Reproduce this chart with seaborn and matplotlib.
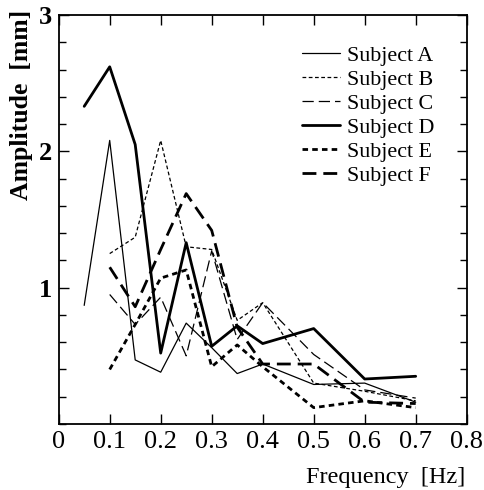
import matplotlib
matplotlib.use("Agg")
import matplotlib.pyplot as plt
import seaborn as sns
import pandas as pd
from matplotlib.ticker import MultipleLocator

freq_a = [0.05, 0.1, 0.15, 0.2, 0.25, 0.3, 0.35, 0.4, 0.5, 0.6, 0.7]
freq_b = [0.1, 0.15, 0.2, 0.25, 0.3, 0.35, 0.4, 0.5, 0.6, 0.7]

subject_a = [0.87, 2.08, 0.47, 0.38, 0.74, 0.56, 0.37, 0.44, 0.29, 0.30, 0.16]
subject_b = [1.25, 1.37, 2.08, 1.30, 1.28, 0.76, 0.89, 0.30, 0.24, 0.17]
subject_c = [0.95, 0.73, 0.93, 0.50, 1.27, 0.62, 0.89, 0.51, 0.25, 0.19]
subject_d = [2.33, 2.62, 2.05, 0.52, 1.33, 0.57, 0.72, 0.59, 0.70, 0.33, 0.35]
subject_e = [0.40, 0.73, 1.07, 1.13, 0.42, 0.58, 0.42, 0.12, 0.17, 0.12]
subject_f = [1.15, 0.86, 1.28, 1.69, 1.42, 0.71, 0.44, 0.44, 0.16, 0.15]

labels = ["Subject A", "Subject B", "Subject C", "Subject D", "Subject E", "Subject F"]
x_ticks = [0, 0.1, 0.2, 0.3, 0.4, 0.5, 0.6, 0.7, 0.8]
x_tick_labels = ["0", "0.1", "0.2", "0.3", "0.4", "0.5", "0.6", "0.7", "0.8"]
y_ticks = [1, 2, 3]
y_tick_labels = ["1", "2", "3"]

series = [
    (freq_a, subject_a), (freq_b, subject_b), (freq_b, subject_c),
    (freq_a, subject_d), (freq_b, subject_e), (freq_b, subject_f),
]
styles = [
    dict(lw=0.9, dashes=""),
    dict(lw=0.9, dashes=(3, 2)),
    dict(lw=0.9, dashes=(9, 4)),
    dict(lw=2.0, dashes=""),
    dict(lw=2.0, dashes=(2, 1.5)),
    dict(lw=2.0, dashes=(5, 2.5)),
]

sns.set_style("ticks")
plt.rcParams["font.family"] = ["Liberation Serif", "DejaVu Serif"]
plt.rcParams["text.color"] = "black"
plt.rcParams["axes.labelcolor"] = "black"
plt.rcParams["xtick.color"] = "black"
plt.rcParams["ytick.color"] = "black"

fig = plt.figure(figsize=(4.84, 4.90), dpi=100)
ax = fig.add_axes([58.7 / 484, 1 - 424 / 490, 408 / 484, 409 / 490])

for (xs, ys), lab, st in zip(series, labels, styles):
    df = pd.DataFrame({"Frequency": xs, "Amplitude": ys})
    sns.lineplot(data=df, x="Frequency", y="Amplitude", ax=ax,
                 color="black", lw=st["lw"], label=lab)
    ln = ax.lines[-1]
    if st["dashes"]:
        ln.set_dashes(st["dashes"])

ax.set_xlim(0, 0.8)
ax.set_ylim(0, 3)
ax.set_xticks(x_ticks)
ax.set_xticklabels(x_tick_labels, fontsize=19)
ax.set_yticks(y_ticks)
ax.set_yticklabels(y_tick_labels, fontsize=19, fontweight="bold")
ax.yaxis.set_minor_locator(MultipleLocator(0.2))
ax.tick_params(which="both", direction="in", top=True, right=True, width=1,
               color="black", labelcolor="black")
ax.tick_params(which="major", length=7, pad=5)
ax.tick_params(which="minor", length=5)
for s in ax.spines.values():
    s.set_linewidth(1.3)
    s.set_color("black")

ax.set_ylabel("Amplitude  [mm]", fontsize=18.5, fontweight="bold", loc="top", color="black")
ax.yaxis.set_label_coords(-0.063, 1.012)
ax.set_xlabel("Frequency  [Hz]", fontsize=17.5, loc="right", color="black")
ax.xaxis.set_label_coords(0.996, -0.105)

leg = ax.legend(loc="upper left", bbox_to_anchor=(0.596, 0.926), frameon=False,
                fontsize=15.8, handlelength=1.75, handletextpad=0.3, labelspacing=0.17,
                borderpad=0, borderaxespad=0)
for t in leg.get_texts():
    t.set_color("black")

fig.savefig("out.png", dpi=100)
